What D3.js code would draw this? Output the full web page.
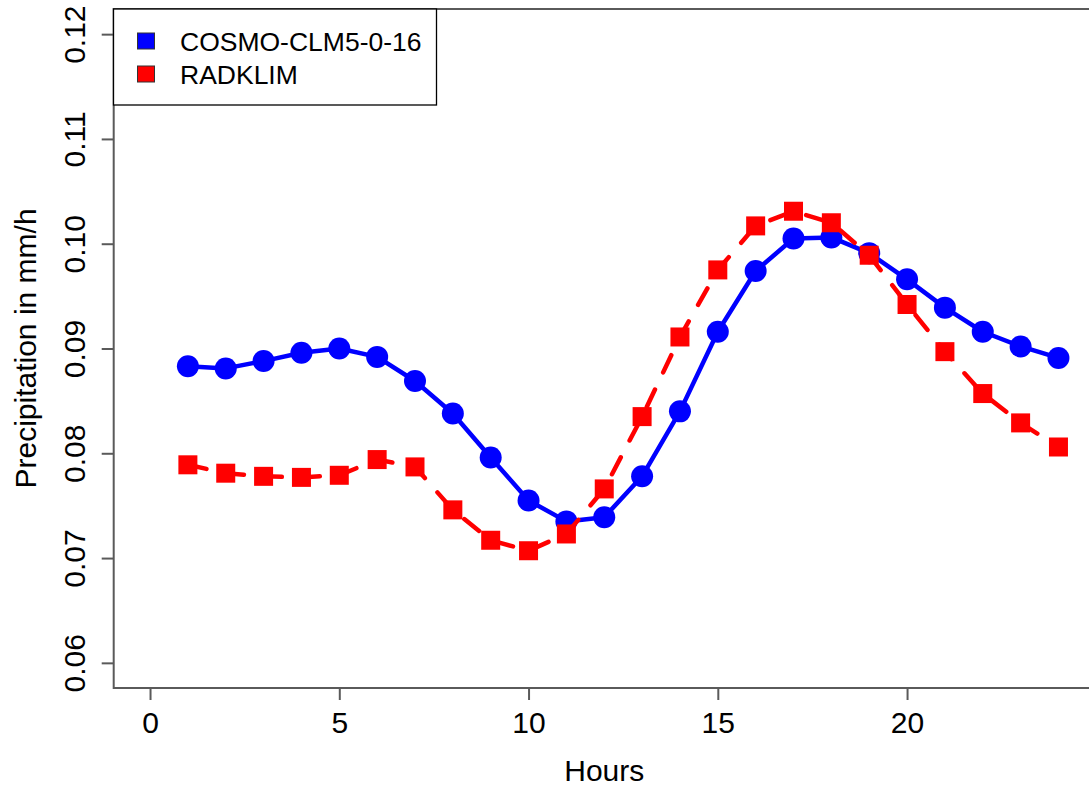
<!DOCTYPE html>
<html>
  <head>
    <meta charset="utf-8">
    <title>Diurnal precipitation cycle</title>
    <script src="https://cdn.jsdelivr.net/npm/d3@7"></script>
  </head>

  <style>
    body {
      margin: 0;
      background: #FFFFFF;
    }
    text {
      font-family: "Liberation Sans", Arial, sans-serif;
      fill: #000000;
    }
  </style>

  <body>
    <script>

      // hourly means
      var hours = [1, 2, 3, 4, 5, 6, 7, 8, 9, 10, 11, 12,
                   13, 14, 15, 16, 17, 18, 19, 20, 21, 22, 23, 24];

      var cosmo = [0.0883, 0.0881, 0.0888, 0.0896, 0.0900, 0.0892, 0.0869, 0.0838,
                   0.0796, 0.0755, 0.0735, 0.0739, 0.0778, 0.0840, 0.0916, 0.0974,
                   0.1005, 0.1006, 0.0991, 0.0966, 0.0939, 0.0916, 0.0902, 0.0891];

      var radklim = [0.0789, 0.0781, 0.0778, 0.0777, 0.0779, 0.0794, 0.0787, 0.0746,
                     0.0717, 0.0707, 0.0723, 0.0766, 0.0835, 0.0911, 0.0975, 0.1017,
                     0.1031, 0.1020, 0.0989, 0.0942, 0.0897, 0.0857, 0.0829, 0.0806];

      var xTicks = [0, 5, 10, 15, 20];
      var yTicks = [0.06, 0.07, 0.08, 0.09, 0.10, 0.11, 0.12];

      var seriesNames = ["COSMO-CLM5-0-16", "RADKLIM"];
      var seriesColors = ["#0000FF", "#FF0000"];

      var width = 1089,
        height = 786;

      var svg = d3.select("body")
        .append("svg")
        .attr("width", width)
        .attr("height", height);

      // R style: xlim 0..24, ylim 0.06..0.12, each widened by 4 %
      var x = d3.scaleLinear()
        .domain([-0.96, 24.96])
        .range([113.7, 1094.8]);

      var y = d3.scaleLinear()
        .domain([0.0576, 0.1224])
        .range([688, 9]);

      var axisColor = "#5a5a5a";

      // box (right side falls outside the picture)
      svg.append("rect")
        .attr("x", x(-0.96))
        .attr("y", y(0.1224))
        .attr("width", x(24.96) - x(-0.96))
        .attr("height", y(0.0576) - y(0.1224))
        .attr("fill", "none")
        .attr("stroke", axisColor)
        .attr("stroke-width", 2);

      // x axis
      var xAxis = svg.append("g")
        .attr("transform", "translate(0," + y(0.0576) + ")")
        .call(d3.axisBottom(x).tickValues(xTicks).tickSize(12).tickPadding(12).tickFormat(d3.format("d")));
      xAxis.select(".domain").remove();
      xAxis.selectAll("line").attr("stroke", axisColor).attr("stroke-width", 2);
      xAxis.selectAll("text")
        .attr("font-size", "30px")
        .attr("font-family", "Liberation Sans, Arial, sans-serif")
        .attr("fill", "#000");

      // y axis, labels turned like R's default las=0
      var yAxis = svg.append("g")
        .attr("transform", "translate(" + x(-0.96) + ",0)")
        .call(d3.axisLeft(y).tickValues(yTicks).tickSize(12).tickFormat(d3.format(".2f")));
      yAxis.select(".domain").remove();
      yAxis.selectAll("line").attr("stroke", axisColor).attr("stroke-width", 2);
      yAxis.selectAll("text")
        .attr("x", null)
        .attr("dy", null)
        .attr("text-anchor", "middle")
        .attr("transform", "translate(-29,0) rotate(-90)")
        .attr("font-size", "30px")
        .attr("font-family", "Liberation Sans, Arial, sans-serif")
        .attr("fill", "#000");

      // axis titles
      svg.append("text")
        .attr("x", (x(-0.96) + x(24.96)) / 2)
        .attr("y", 781)
        .attr("text-anchor", "middle")
        .attr("font-size", "30px")
        .text("Hours");

      svg.append("text")
        .attr("transform", "translate(36," + (y(0.0576) + y(0.1224)) / 2 + ") rotate(-90)")
        .attr("text-anchor", "middle")
        .attr("font-size", "30px")
        .text("Precipitation in mm/h");

      var line = d3.line()
        .x((d, i) => x(hours[i]))
        .y(d => y(d));

      // COSMO: solid line with filled circles
      svg.append("path")
        .datum(cosmo)
        .attr("d", line)
        .attr("fill", "none")
        .attr("stroke", seriesColors[0])
        .attr("stroke-width", 4.5)
        .attr("stroke-linejoin", "round");

      svg.selectAll(".cosmo")
        .data(cosmo)
        .enter()
        .append("circle")
        .attr("class", "cosmo")
        .attr("cx", (d, i) => x(hours[i]))
        .attr("cy", d => y(d))
        .attr("r", 11)
        .attr("fill", seriesColors[0]);

      // RADKLIM: dashed line with filled squares
      svg.append("path")
        .datum(radklim)
        .attr("d", line)
        .attr("fill", "none")
        .attr("stroke", seriesColors[1])
        .attr("stroke-width", 4.5)
        .attr("stroke-linecap", "round")
        .attr("stroke-dasharray", "19 19");

      var sq = 19;
      svg.selectAll(".radklim")
        .data(radklim)
        .enter()
        .append("rect")
        .attr("class", "radklim")
        .attr("x", (d, i) => x(hours[i]) - sq / 2)
        .attr("y", d => y(d) - sq / 2)
        .attr("width", sq)
        .attr("height", sq)
        .attr("fill", seriesColors[1]);

      // legend, top left
      var legend = svg.append("g");

      legend.append("rect")
        .attr("x", 113.5)
        .attr("y", 9)
        .attr("width", 323)
        .attr("height", 96)
        .attr("fill", "#FFFFFF")
        .attr("stroke", "#000")
        .attr("stroke-width", 1.3);

      var items = legend.selectAll(".item")
        .data(seriesNames)
        .enter()
        .append("g")
        .attr("class", "item")
        .attr("transform", (d, i) => "translate(0," + (41 + i * 33) + ")");

      items.append("rect")
        .attr("x", 137.5)
        .attr("y", -8)
        .attr("width", 17)
        .attr("height", 16)
        .attr("fill", (d, i) => seriesColors[i])
        .attr("stroke", "#333")
        .attr("stroke-width", 1);

      items.append("text")
        .attr("x", 180)
        .attr("y", 9.5)
        .attr("font-size", "26.5px")
        .text(d => d);

    </script>
  </body>
</html>
